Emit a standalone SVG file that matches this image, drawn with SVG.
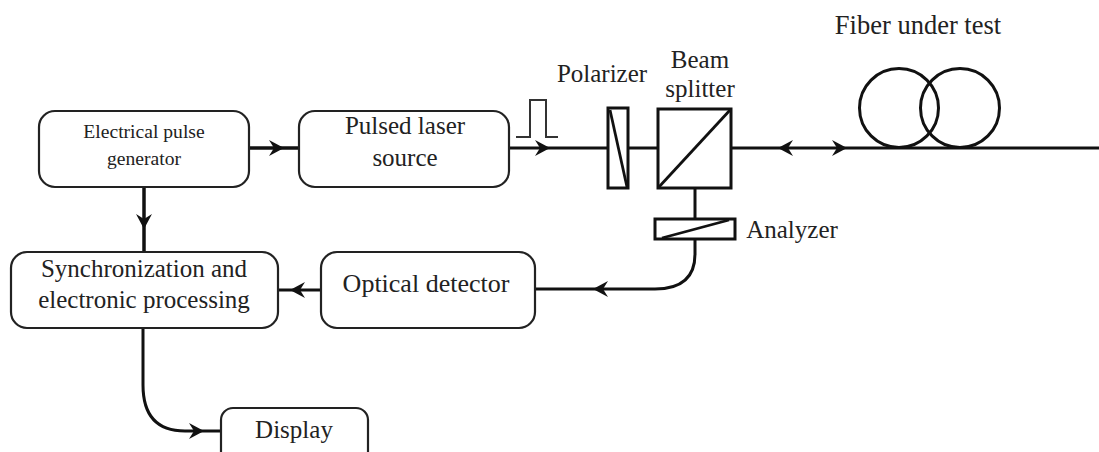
<svg xmlns="http://www.w3.org/2000/svg" width="1099" height="452" viewBox="0 0 1099 452">
<defs><marker id="a" viewBox="0 0 15 16" refX="15" refY="8" markerWidth="15" markerHeight="16" markerUnits="userSpaceOnUse" orient="auto"><path d="M0 0L15 8L0 16L5 8Z" fill="#111"/></marker></defs>
<style>
.b{fill:#fff;stroke:#222;stroke-width:2.2}
.o{fill:#fff;stroke:#111;stroke-width:3}
.d{fill:none;stroke:#111;stroke-width:2.8}
.l{fill:none;stroke:#111;stroke-width:3}
.m{fill:none;stroke:none;marker-end:url(#a)}
.t{font-family:"Liberation Serif",serif;font-size:25px;fill:#222;text-anchor:middle}
.s{font-size:19.600px}
</style>
<rect width="1099" height="452" fill="#fff"/>
<g id="connectors">
<path class="l" style="stroke-width:3.500" d="M249 148H299"/><path class="m" d="M270 148H284"/>
<path class="l" style="stroke-width:3.500" d="M144 187V252"/><path class="m" d="M144 215V229"/>
<path class="l" d="M509 148H608"/><path class="m" d="M537 148H550"/>
<path class="l" d="M628 148H658"/>
<path class="l" d="M731 148H1099"/><path class="m" d="M792 148H778"/><path class="m" d="M833 148H847"/>
<path class="l" d="M695 188V219"/>
<path class="l" d="M695 239V254Q695 289 655 289H535"/><path class="m" d="M607 289H593"/>
<path class="l" d="M321 290H278"/><path class="m" d="M305 290H290"/>
<path class="l" d="M143 328V385Q143 431 185 431H221"/><path class="m" d="M190 431H204"/>
<path d="M516 137H530V100H546V137H558" fill="none" stroke="#333" stroke-width="2"/>
</g>
<g id="pulse-generator"><rect class="b" x="39" y="111" width="210" height="76" rx="16"/><text class="t s" x="144" y="138">Electrical pulse</text><text class="t s" x="144" y="165">generator</text></g>
<g id="laser"><rect class="b" x="299" y="111" width="210" height="76" rx="16"/><text class="t" x="405" y="134">Pulsed laser</text><text class="t" x="405" y="166">source</text></g>
<g id="polarizer"><rect class="o" x="608" y="108" width="20" height="80"/><path class="d" d="M610 110L627 187"/><text class="t" x="602" y="82">Polarizer</text></g>
<g id="beam-splitter"><rect class="o" x="658" y="109" width="73" height="79"/><path class="d" d="M658 188L731 109"/><text class="t" x="700" y="68">Beam</text><text class="t" x="700" y="97">splitter</text></g>
<g id="analyzer"><rect class="o" x="655" y="219" width="80" height="20"/><path class="d" d="M662 238L729 220"/><text class="t" x="792" y="238">Analyzer</text></g>
<g id="fiber"><circle cx="899" cy="108" r="39.500" fill="none" stroke="#111" stroke-width="3"/><circle cx="960" cy="108" r="39.500" fill="none" stroke="#111" stroke-width="3"/><text class="t" style="font-size:26.500px" x="918" y="34">Fiber under test</text></g>
<g id="detector"><rect class="b" x="321" y="252" width="214" height="76" rx="16"/><text class="t" style="font-size:26px" x="426" y="292">Optical detector</text></g>
<g id="sync"><rect class="b" x="11" y="252" width="267" height="76" rx="16"/><text class="t" x="144" y="277">Synchronization and</text><text class="t" x="144" y="308">electronic processing</text></g>
<g id="display"><rect class="b" x="221" y="408" width="147" height="70" rx="12"/><text class="t" x="294" y="438">Display</text></g>
</svg>
